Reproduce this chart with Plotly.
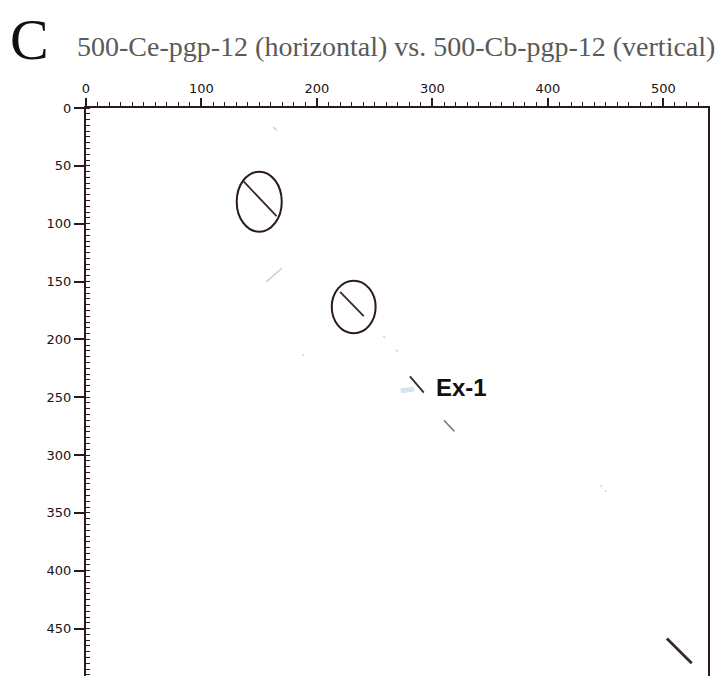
import plotly.graph_objects as go

# ---- data (sequence positions) ----
# diagonal match segments: start (x0, y0) -> end (x1, y1)
seg_x0 = [162.0, 136.5, 155.8, 220.0, 257.5, 268.5, 280.5, 310.0, 503.0]
seg_y0 = [16.5, 63.5, 150.5, 159.0, 197.0, 209.0, 232.0, 270.0, 458.5]
seg_x1 = [165.5, 165.0, 169.5, 240.5, 259.0, 270.0, 292.5, 319.0, 524.5]
seg_y1 = [19.5, 93.5, 138.5, 180.0, 198.5, 210.5, 246.0, 279.5, 480.0]
seg_kind = ["faint", "strong", "faint", "strong", "faint", "faint", "strong", "medium", "strong"]

# faint scattered dots
dot_x = [188.0, 446.0, 450.0]
dot_y = [213.5, 327.0, 331.0]

# cyan smudge next to Ex-1
smudge_x = [272.5, 284.0]
smudge_y = [244.5, 243.0]

# circled regions: centre and half-sizes
ell_cx = [150.0, 231.8]
ell_cy = [81.0, 172.0]
ell_rx = [19.5, 19.0]
ell_ry = [26.0, 22.7]

label_text = "Ex-1"
label_x = 301.5
label_y = 242.0

x_range = [0, 538.6]
y_range = [491, 0]
title_text = "500-Ce-pgp-12 (horizontal) vs. 500-Cb-pgp-12 (vertical)"
panel_letter = "C"

# ---- styles ----
kind_style = {
    "faint": dict(color="#d0cccc", width=1.4),
    "medium": dict(color="#8a7c80", width=1.6),
    "strong": dict(color="#3a2630", width=1.8),
}

fig = go.Figure()

for x0, y0, x1, y1, k in zip(seg_x0, seg_y0, seg_x1, seg_y1, seg_kind):
    st = kind_style[k]
    w = st["width"] + (1.0 if (x1 - x0) > 20 and y0 > 400 else 0)
    fig.add_trace(go.Scatter(x=[x0, x1], y=[y0, y1], mode="lines",
                             line=dict(color=st["color"], width=w),
                             showlegend=False, hoverinfo="skip"))

fig.add_trace(go.Scatter(x=dot_x, y=dot_y, mode="markers",
                         marker=dict(color="#d4d4d4", size=2),
                         showlegend=False, hoverinfo="skip"))

fig.add_trace(go.Scatter(x=smudge_x, y=smudge_y, mode="lines",
                         line=dict(color="#cfe6ee", width=5),
                         showlegend=False, hoverinfo="skip"))

for cx, cy, rx, ry in zip(ell_cx, ell_cy, ell_rx, ell_ry):
    fig.add_shape(type="circle", xref="x", yref="y",
                  x0=cx - rx, x1=cx + rx, y0=cy - ry, y1=cy + ry,
                  line=dict(color="#2a1a1c", width=2))

fig.add_annotation(x=label_x, y=label_y, xref="x", yref="y", text=label_text,
                   showarrow=False, xanchor="left", yanchor="middle",
                   font=dict(family="Liberation Sans, Arial", size=24, color="#111111", weight="bold"))

fig.add_annotation(x=-0.1254, y=1.121, xref="paper", yref="paper", text=panel_letter,
                   showarrow=False, xanchor="left", yanchor="middle",
                   font=dict(family="Liberation Serif, Times New Roman", size=58, color="#111111"))

fig.add_annotation(x=-0.0177, y=1.109, xref="paper", yref="paper", text=title_text,
                   showarrow=False, xanchor="left", yanchor="middle",
                   font=dict(family="Liberation Serif, Times New Roman", size=28, color="#5a5a5a"))

axis_color = "#2a1a1c"
tick_font = dict(family="DejaVu Sans, Verdana", size=13, color="#1a1214")

fig.update_xaxes(side="top", range=x_range, tick0=0, dtick=100,
                 ticks="outside", ticklen=8, tickwidth=1.5, tickcolor=axis_color,
                 minor=dict(dtick=10, ticks="outside", ticklen=4, tickwidth=1.2, tickcolor=axis_color),
                 showline=True, linecolor=axis_color, linewidth=2,
                 showgrid=False, zeroline=False, tickfont=tick_font)
fig.update_yaxes(range=y_range, tick0=0, dtick=50,
                 ticks="outside", ticklen=10, tickwidth=1.5, tickcolor=axis_color,
                 minor=dict(dtick=5, ticks="inside", ticklen=4, tickwidth=1.2, tickcolor=axis_color),
                 showline=True, mirror=True, linecolor=axis_color, linewidth=2,
                 showgrid=False, zeroline=False, tickfont=tick_font)

fig.update_layout(width=721, height=676,
                  margin=dict(l=86, r=13, t=108, b=0),
                  paper_bgcolor="white", plot_bgcolor="white",
                  showlegend=False)

fig.write_html("out.html")
